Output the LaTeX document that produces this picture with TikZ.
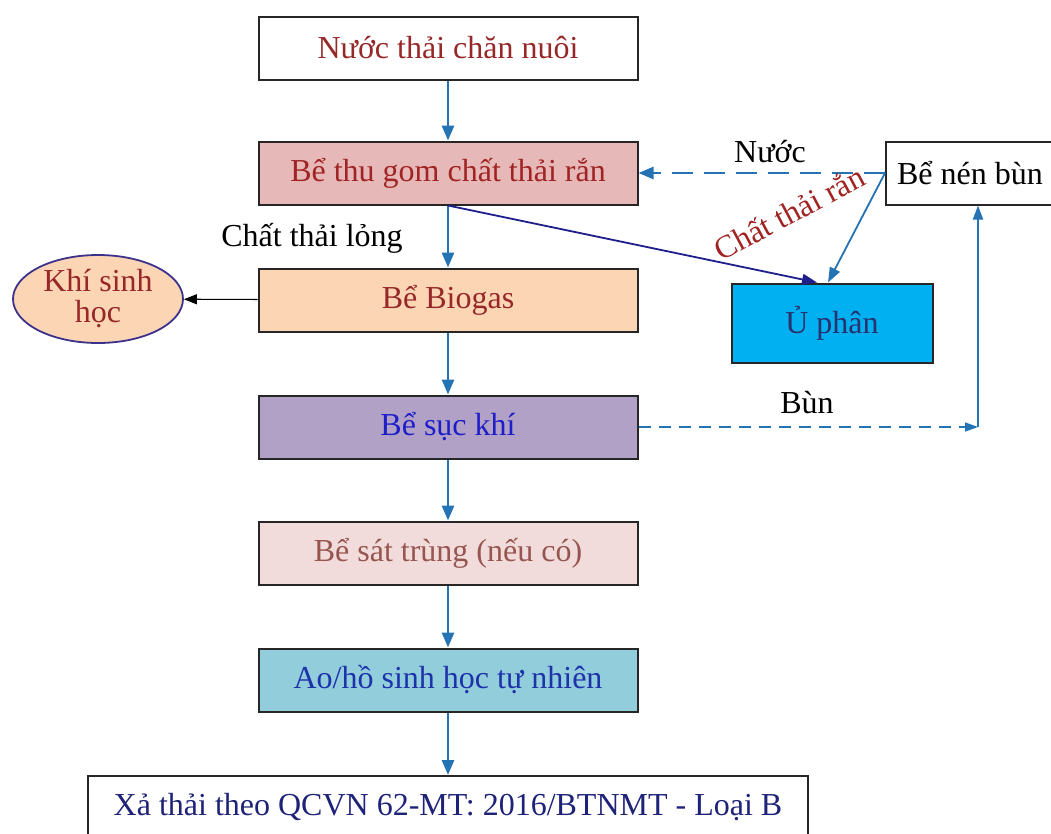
\documentclass[tikz,border=0pt]{standalone}
\usepackage{fontspec}
\setmainfont{Liberation Serif}
\usepackage{tikz}
\usetikzlibrary{arrows.meta,shapes.geometric}
\definecolor{flowblue}{RGB}{36,115,180}
\definecolor{navyline}{RGB}{30,30,140}
\definecolor{darkred}{RGB}{150,40,40}
\definecolor{thugomfill}{RGB}{230,184,183}
\definecolor{biogasfill}{RGB}{252,213,181}
\definecolor{suckhifill}{RGB}{178,161,199}
\definecolor{sattrungfill}{RGB}{242,220,219}
\definecolor{aofill}{RGB}{146,205,220}
\definecolor{uphanfill}{RGB}{0,176,240}
\definecolor{ellborder}{RGB}{60,50,140}

\begin{document}
\begin{tikzpicture}[x=1pt, y=-1pt, >={Triangle[length=15pt,width=12pt]},
    font=\fontsize{32}{38}\selectfont,
    tank/.style={draw=black!85, line width=2pt, minimum width=379pt, minimum height=63pt, inner sep=0pt},
    flow/.style={->, line width=2.8pt, flowblue}]
    \useasboundingbox (0, 0) rectangle (1051, 833);
    \node[tank, text=darkred] (nuoc) at (448, 48) {Nước thải chăn nuôi};
    \node[tank, fill=thugomfill, text=darkred!90!red] (thugom) at (448, 173) {Bể thu gom chất thải rắn};
    \node[tank, fill=biogasfill, text=darkred] (biogas) at (448, 300) {Bể Biogas};
    \node[tank, fill=suckhifill, text={rgb,255:red,30;green,30;blue,200}] (suckhi) at (448, 427) {Bể sục khí};
    \node[tank, fill=sattrungfill, text={rgb,255:red,150;green,85;blue,80}] (sattrung) at (448, 553) {Bể sát trùng (nếu có)};
    \node[tank, fill=aofill, text={rgb,255:red,30;green,50;blue,170}] (ao) at (448, 680) {Ao/hồ sinh học tự nhiên};
    \node[tank, anchor=north, minimum width=720pt, minimum height=62pt, text={rgb,255:red,30;green,35;blue,120}] (xathai) at (448, 775) {Xả thải theo QCVN 62-MT: 2016/BTNMT - Loại B};
    \node[tank, minimum width=168pt] (nenbun) at (970, 173) {Bể nén bùn};
    \node[tank, fill=uphanfill, minimum width=201pt, minimum height=79pt, text={rgb,255:red,40;green,50;blue,110}] (uphan) at (832, 323) {Ủ phân};
    \node[ellipse, draw=ellborder, line width=1.8pt, fill=biogasfill, minimum width=170pt, minimum height=88pt, inner sep=0pt,
      align=center, text=darkred, font=\fontsize{32}{31}\selectfont] (khi) at (98, 299) {Khí sinh\\học};

    \draw[flow] (nuoc) -- (thugom);
    \draw[flow] (thugom) -- (biogas);
    \draw[flow] (biogas) -- (suckhi);
    \draw[flow] (suckhi) -- (sattrung);
    \draw[flow] (sattrung) -- (ao);
    \draw[flow] (ao) -- (xathai);
    \draw[->, line width=1.1pt, >={Triangle[length=13pt,width=10pt]}] (biogas) -- (khi);
    \draw[->, line width=1.8pt, navyline, >={Triangle[length=15pt,width=11pt]}] (thugom.south) -- ([xshift=-15pt]uphan.north);
    \draw[->, line width=1.8pt, flowblue, >={Triangle[length=15pt,width=11pt]}] (nenbun.west) -- ([xshift=-4pt]uphan.north);
    \draw[->, line width=2.6pt, flowblue, dash pattern=on 21pt off 11pt, >={Triangle[length=15pt,width=12pt]}] (nenbun.west) -- (thugom.east);
    \coordinate (goc) at (978, 427);
    \draw[->, line width=1.6pt, flowblue, dash pattern=on 12pt off 8pt, >={Triangle[length=13pt,width=9pt]}] (suckhi.east) -- (goc);
    \draw[->, line width=2pt, flowblue, >={Triangle[length=14pt,width=10pt]}] (goc) -- (goc |- nenbun.south);

    \node (nuoclbl) at (770, 152) {Nước};
    \node (bunlbl) at (807, 403) {Bùn};
    \node (longlbl) at (312, 238) {Chất thải lỏng};
    \node[rotate=28, text=darkred!90!red] (ranlbl) at (789, 213) {Chất thải rắn};
  \end{tikzpicture}
\end{document}
